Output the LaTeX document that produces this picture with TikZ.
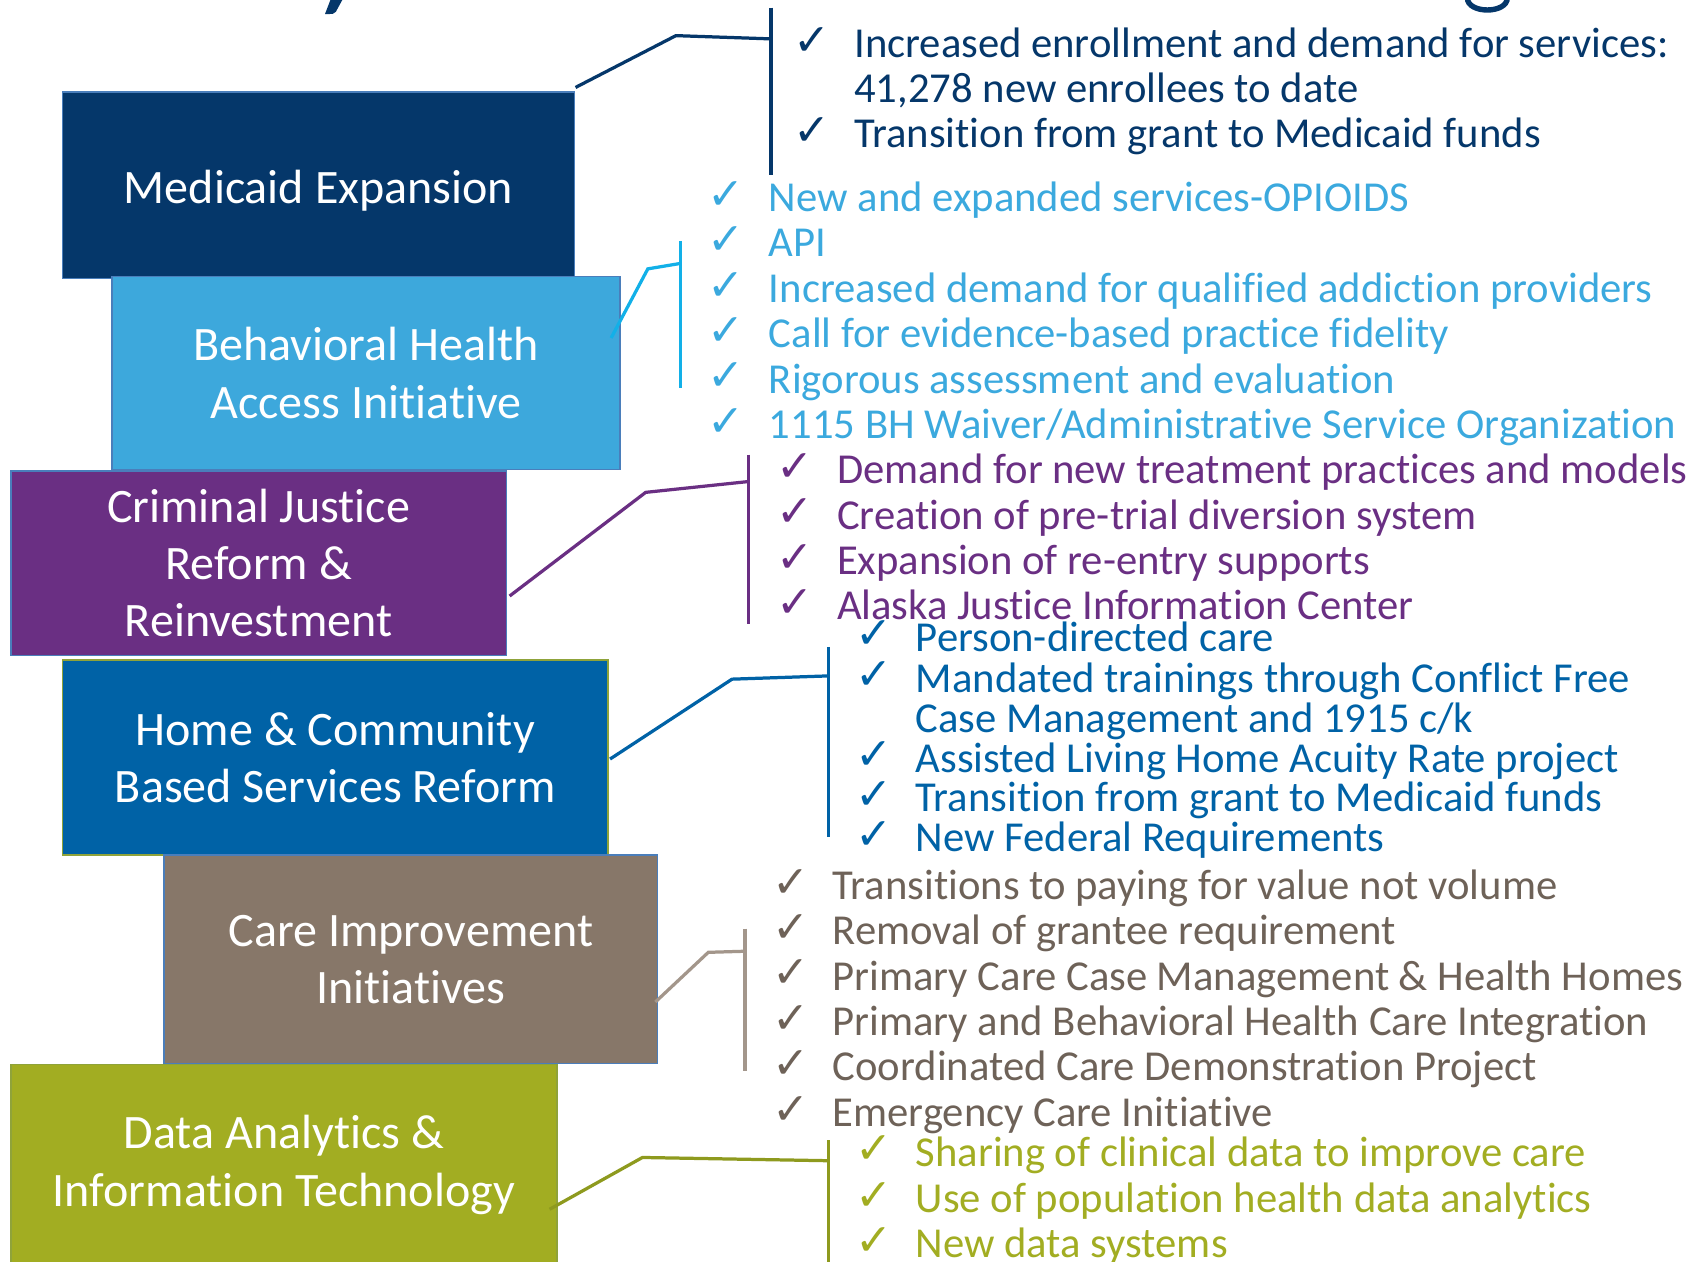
\documentclass[tikz,border=0pt]{standalone}
\usepackage{fontspec}
\setmainfont{Carlito}[Ligatures=NoCommon]
\newfontfamily\symf{DejaVu Sans}
\definecolor{navy}{HTML}{05376A}
\definecolor{bhblue}{HTML}{3DA8DC}
\definecolor{bhtext}{HTML}{3BA9DE}
\definecolor{bhline}{HTML}{12B0E8}
\definecolor{cjpurple}{HTML}{6A2F83}
\definecolor{hcbsblue}{HTML}{0062A6}
\definecolor{carebox}{HTML}{877769}
\definecolor{caretext}{HTML}{6E6258}
\definecolor{careline}{HTML}{A3968B}
\definecolor{dataolive}{HTML}{A2AD22}
\definecolor{dataline}{HTML}{8E9A1E}
\definecolor{edgeblue}{HTML}{4A7EBB}
\definecolor{edgegreen}{HTML}{8FA33A}
\newcommand\listline[6]{%
  \node[chk,text=#6] (#1c) at (#2,#4-2) {✓};
  \node[item,text=#6] (#1) at (#3,#4) {#5};}
\begin{document}
\begin{tikzpicture}[x=1pt,y=-1pt,
  box/.style={draw=edgeblue, line width=1.5pt, inner sep=0pt, outer sep=0pt,
    text=white, align=center, font=\fontsize{44.5}{53}\selectfont},
  item/.style={anchor=base west, inner sep=0pt, font=\fontsize{39.5}{42}\selectfont},
  chk/.style={anchor=base west, inner sep=0pt, font=\symf\bfseries\fontsize{41}{41}\selectfont},
  link/.style={line width=3pt, line join=miter}]
\useasboundingbox (0,0) rectangle (1568,1168);
% title fragments
\fill[navy] (306,0) -- (317,0) -- (311,11) .. controls (310,13) and (308,13) .. (301,13) -- cycle;
\draw[navy, line width=5pt] (1359,-2) .. controls (1359,13) and (1396,13) .. (1396,-2);

% boxes
\node[box, fill=navy, minimum width=474pt, minimum height=173pt] (med) at (295,171.5) {\rule{0pt}{42pt}Medicaid Expansion};
\node[box, fill=bhblue, minimum width=470pt, minimum height=179pt] (bh) at (339,345.5) {Behavioral Health\\Access Initiative};
\node[box, fill=cjpurple, minimum width=459pt, minimum height=171pt] (cj) at (239.5,521.5) {Criminal Justice\\Reform \&\\Reinvestment};
\node[box, fill=hcbsblue, draw=edgegreen, minimum width=505pt, minimum height=181pt] (hcbs) at (310.5,701.5) {Home \& Community\\Based Services Reform};
\node[box, fill=carebox, minimum width=457pt, minimum height=193pt] (care) at (380.5,888.5) {Care Improvement\\Initiatives};
\node[box, fill=dataolive, draw=edgegreen, minimum width=506pt, minimum height=186pt] (data) at (263,1079) {Data Analytics \&\\Information Technology};

% connector coordinates
\coordinate (m0) at (533,81);  \coordinate (m1) at (626,33);  \coordinate (m2) at (714,36);
\coordinate (mt) at (714,7);   \coordinate (mb) at (714,162);
\coordinate (b0) at (566,313); \coordinate (b1) at (600,249); \coordinate (b2) at (630,244);
\coordinate (bt) at (630,223); \coordinate (bb) at (630,359);
\coordinate (c0) at (472,552); \coordinate (c1) at (598,456); \coordinate (c2) at (693,446);
\coordinate (ct) at (693,421); \coordinate (cb) at (693,578);
\coordinate (h0) at (565,703); \coordinate (h1) at (678,629); \coordinate (h2) at (767,626);
\coordinate (ht) at (767,599); \coordinate (hb) at (767,775);
\coordinate (r0) at (607,928); \coordinate (r1) at (656,882); \coordinate (r2) at (690,881);
\coordinate (rt) at (690,860); \coordinate (rb) at (690,992);
\coordinate (d0) at (509,1120); \coordinate (d1) at (595,1072); \coordinate (d2) at (767,1075);
\coordinate (dt) at (767,1056); \coordinate (db) at (767,1170);

\draw[link, navy] (m0) -- (m1) -- (m2);  \draw[link, navy] (mt) -- (mb);
\draw[link, bhline] (b0) -- (b1) -- (b2); \draw[link, bhline] (bt) -- (bb);
\draw[link, cjpurple] (c0) -- (c1) -- (c2); \draw[link, cjpurple] (ct) -- (cb);
\draw[link, hcbsblue] (h0) -- (h1) -- (h2); \draw[link, hcbsblue] (ht) -- (hb);
\draw[link, careline] (r0) -- (r1) -- (r2); \draw[link, careline] (rt) -- (rb);
\draw[link, dataline] (d0) -- (d1) -- (d2); \draw[link, dataline] (dt) -- (db);

% lists
\listline{ma}{735}{791}{53}{Increased enrollment and demand for services:}{navy}
\node[item,text=navy] (mab) at (791,95) {41,278 new enrollees to date};
\listline{mb}{735}{791}{137}{Transition from grant to Medicaid funds}{navy}

\listline{ba}{655}{712}{196}{New and expanded services-OPIOIDS}{bhtext}
\listline{bb}{655}{712}{238}{API}{bhtext}
\listline{bc}{655}{712}{280}{Increased demand for qualified addiction providers}{bhtext}
\listline{bd}{655}{712}{322}{Call for evidence-based practice fidelity}{bhtext}
\listline{be}{655}{712}{364}{Rigorous assessment and evaluation}{bhtext}
\listline{bf}{655}{712}{406}{1115 BH Waiver/Administrative Service Organization}{bhtext}

\listline{ca}{719}{775}{448}{Demand for new treatment practices and models}{cjpurple}
\listline{cb}{719}{775}{490}{Creation of pre-trial diversion system}{cjpurple}
\listline{cc}{719}{775}{532}{Expansion of re-entry supports}{cjpurple}
\listline{cd}{719}{775}{574}{Alaska Justice Information Center}{cjpurple}

\listline{ha}{792}{848}{603}{Person-directed care}{hcbsblue}
\listline{hb}{792}{848}{641}{Mandated trainings through Conflict Free}{hcbsblue}
\node[item,text=hcbsblue] (hbb) at (848,678) {Case Management and 1915 c/k};
\listline{hc}{792}{848}{715}{Assisted Living Home Acuity Rate project}{hcbsblue}
\listline{hd}{792}{848}{752}{Transition from grant to Medicaid funds}{hcbsblue}
\listline{he}{792}{848}{789}{New Federal Requirements}{hcbsblue}

\listline{ra}{715}{771}{833}{Transitions to paying for value not volume}{caretext}
\listline{rb}{715}{771}{875}{Removal of grantee requirement}{caretext}
\listline{rc}{715}{771}{917}{Primary Care Case Management \& Health Homes}{caretext}
\listline{rd}{715}{771}{959}{Primary and Behavioral Health Care Integration}{caretext}
\listline{re}{715}{771}{1001}{Coordinated Care Demonstration Project}{caretext}
\listline{rf}{715}{771}{1043}{Emergency Care Initiative}{caretext}

\listline{da}{792}{848}{1080}{Sharing of clinical data to improve care}{dataolive}
\listline{db}{792}{848}{1123}{Use of population health data analytics}{dataolive}
\listline{dc}{792}{848}{1165}{New data systems}{dataolive}
\end{tikzpicture}
\end{document}
